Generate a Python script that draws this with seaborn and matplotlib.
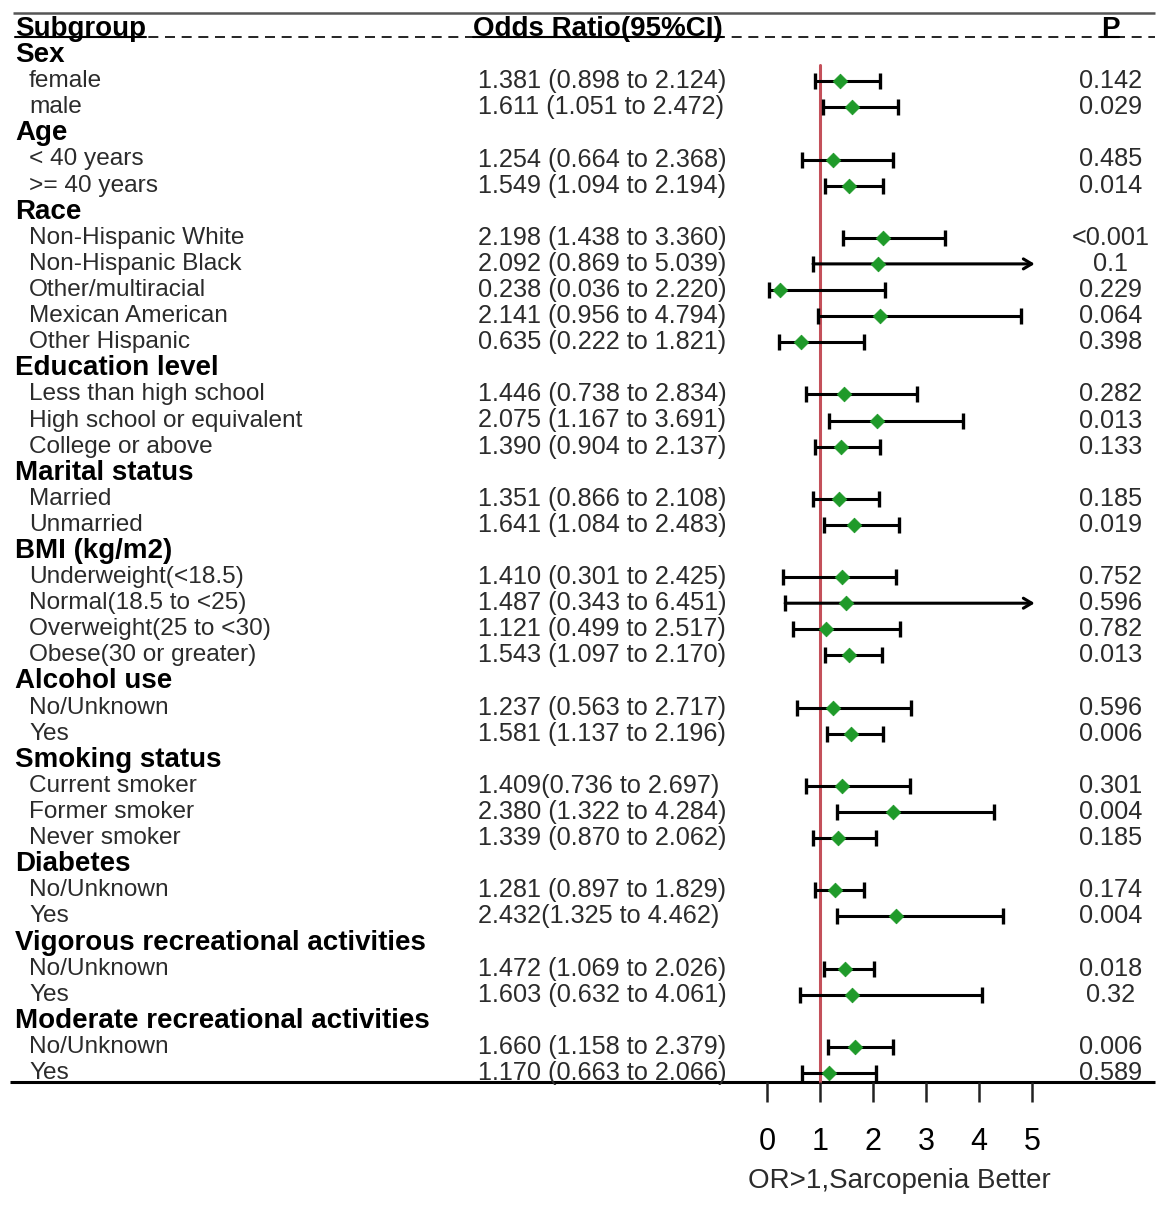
import numpy as np
import pandas as pd
import matplotlib
matplotlib.use("Agg")
import matplotlib.pyplot as plt
import seaborn as sns

# ---------------- data ----------------
group_names = ["Sex", "Age", "Race", "Education level", "Marital status",
               "BMI (kg/m2)", "Alcohol use", "Smoking status", "Diabetes",
               "Vigorous recreational activities", "Moderate recreational activities"]
group_sizes = [2, 2, 5, 3, 2, 4, 2, 3, 2, 2, 2]
subgroups = ["female", "male",
             "< 40 years", ">= 40 years",
             "Non-Hispanic White", "Non-Hispanic Black", "Other/multiracial",
             "Mexican American", "Other Hispanic",
             "Less than high school", "High school or equivalent", "College or above",
             "Married", "Unmarried",
             "Underweight(<18.5)", "Normal(18.5 to <25)", "Overweight(25 to <30)",
             "Obese(30 or greater)",
             "No/Unknown", "Yes",
             "Current smoker", "Former smoker", "Never smoker",
             "No/Unknown", "Yes",
             "No/Unknown", "Yes",
             "No/Unknown", "Yes"]
odds = [1.381, 1.611, 1.254, 1.549, 2.198, 2.092, 0.238, 2.141, 0.635,
        1.446, 2.075, 1.390, 1.351, 1.641, 1.410, 1.487, 1.121, 1.543,
        1.237, 1.581, 1.409, 2.380, 1.339, 1.281, 2.432, 1.472, 1.603,
        1.660, 1.170]
lower = [0.898, 1.051, 0.664, 1.094, 1.438, 0.869, 0.036, 0.956, 0.222,
         0.738, 1.167, 0.904, 0.866, 1.084, 0.301, 0.343, 0.499, 1.097,
         0.563, 1.137, 0.736, 1.322, 0.870, 0.897, 1.325, 1.069, 0.632,
         1.158, 0.663]
upper = [2.124, 2.472, 2.368, 2.194, 3.360, 5.039, 2.220, 4.794, 1.821,
         2.834, 3.691, 2.137, 2.108, 2.483, 2.425, 6.451, 2.517, 2.170,
         2.717, 2.196, 2.697, 4.284, 2.062, 1.829, 4.462, 2.026, 4.061,
         2.379, 2.066]
or_text = ["1.381 (0.898 to 2.124)", "1.611 (1.051 to 2.472)",
           "1.254 (0.664 to 2.368)", "1.549 (1.094 to 2.194)",
           "2.198 (1.438 to 3.360)", "2.092 (0.869 to 5.039)",
           "0.238 (0.036 to 2.220)", "2.141 (0.956 to 4.794)",
           "0.635 (0.222 to 1.821)",
           "1.446 (0.738 to 2.834)", "2.075 (1.167 to 3.691)",
           "1.390 (0.904 to 2.137)",
           "1.351 (0.866 to 2.108)", "1.641 (1.084 to 2.483)",
           "1.410 (0.301 to 2.425)", "1.487 (0.343 to 6.451)",
           "1.121 (0.499 to 2.517)", "1.543 (1.097 to 2.170)",
           "1.237 (0.563 to 2.717)", "1.581 (1.137 to 2.196)",
           "1.409(0.736 to 2.697)", "2.380 (1.322 to 4.284)",
           "1.339 (0.870 to 2.062)",
           "1.281 (0.897 to 1.829)", "2.432(1.325 to 4.462)",
           "1.472 (1.069 to 2.026)", "1.603 (0.632 to 4.061)",
           "1.660 (1.158 to 2.379)", "1.170 (0.663 to 2.066)"]
p_text = ["0.142", "0.029", "0.485", "0.014", "<0.001", "0.1", "0.229", "0.064",
          "0.398", "0.282", "0.013", "0.133", "0.185", "0.019", "0.752", "0.596",
          "0.782", "0.013", "0.596", "0.006", "0.301", "0.004", "0.185", "0.174",
          "0.004", "0.018", "0.32", "0.006", "0.589"]
col_headers = ["Subgroup", "Odds Ratio(95%CI)", "P"]
x_ticks = [0, 1, 2, 3, 4, 5]
x_label = "OR>1,Sarcopenia Better"
x_max = 5

# ---------------- style ----------------
sns.set_theme(style="white")
plt.rcParams["font.family"] = ["Liberation Sans", "DejaVu Sans"]

W, H, DPI = 1170, 1211, 100
fig = plt.figure(figsize=(W / DPI, H / DPI), dpi=DPI)
ax = fig.add_axes([0, 0, 1, 1])
ax.set_axis_off()

# layout: pixel helpers (layout only)
PX_PER_UNIT = 53.0
X0_PX = 767.0
ROW0_PX = 29.0
ROW_PX = 26.1


def xpx(p):
    return (p - X0_PX) / PX_PER_UNIT


def ypx(p):
    return (p - ROW0_PX) / ROW_PX


ax.set_xlim(xpx(0), xpx(W))
ax.set_ylim(ypx(H), ypx(0))

# build row table
rows = []
r = 1
k = 0
for g, n in zip(group_names, group_sizes):
    rows.append(dict(kind="header", label=g, row=r))
    r += 1
    for _ in range(n):
        rows.append(dict(kind="item", label=subgroups[k], row=r, idx=k))
        r += 1
        k += 1

item_rows = [d["row"] for d in rows if d["kind"] == "item"]
df = pd.DataFrame({"subgroup": subgroups, "odds": odds, "lower": lower,
                   "upper": upper, "row": item_rows})

TXT = "#2b2b2b"
FS_BODY = 17.6
FS_OR = 18.2
FS_HEAD = 20

# column header
hdr_texts = []
hdr_texts.append(ax.text(xpx(15), 0, col_headers[0], fontsize=FS_HEAD, fontweight="bold",
                         ha="left", va="center", color="black"))
hdr_texts.append(ax.text(xpx(473), 0, col_headers[1], fontsize=FS_HEAD, fontweight="bold",
                         ha="left", va="center", color="black"))
hdr_texts.append(ax.text(xpx(1110), 0, col_headers[2], fontsize=FS_HEAD, fontweight="bold",
                         ha="center", va="center", color="black"))

# text columns
for d in rows:
    if d["kind"] == "header":
        ax.text(xpx(15), d["row"], d["label"], fontsize=FS_HEAD, fontweight="bold",
                ha="left", va="center", color="black")
    else:
        i = d["idx"]
        ax.text(xpx(29), d["row"], d["label"], fontsize=FS_BODY,
                ha="left", va="center", color=TXT)
        ax.text(xpx(478), d["row"], or_text[i], fontsize=FS_OR,
                ha="left", va="center", color=TXT)
        ax.text(xpx(1111), d["row"], p_text[i], fontsize=FS_OR,
                ha="center", va="center", color=TXT)

# lines: top rule, dashed header rule, bottom axis rule
ax.plot([xpx(13), xpx(1155)], [ypx(13), ypx(13)], color="#555555", lw=1.8,
        solid_capstyle="butt")
ax.plot([xpx(15), xpx(1155)], [ypx(37), ypx(37)], color="black", lw=1.2,
        linestyle=(0, (6, 4)))
ax.plot([xpx(10), xpx(1155)], [ypx(1082), ypx(1082)], color="black", lw=2.2,
        solid_capstyle="butt")

# reference line at OR = 1
ax.plot([1, 1], [ypx(65), ypx(1082)], color="#c4505a", lw=2.2, zorder=2)

# CI lines
LW = 2.2
for _, rr in df.iterrows():
    hi = min(rr["upper"], x_max)
    if rr["upper"] > x_max:
        ax.annotate("", xy=(x_max + 0.05, rr["row"]), xytext=(rr["lower"], rr["row"]),
                    arrowprops=dict(arrowstyle="->,head_length=0.5,head_width=0.3",
                                    lw=LW, color="black", shrinkA=0, shrinkB=0),
                    zorder=3)
        caps = [rr["lower"]]
    else:
        ax.plot([rr["lower"], hi], [rr["row"], rr["row"]], color="black", lw=LW,
                zorder=3, solid_capstyle="butt")
        caps = [rr["lower"], hi]
    ax.plot(caps, [rr["row"]] * len(caps), linestyle="none", marker="|",
            markersize=11, markeredgewidth=2.4, color="black", zorder=3)

sns.scatterplot(data=df, x="odds", y="row", ax=ax, color="#1f9a2a", marker="D",
                s=55, edgecolor="#1f9a2a", linewidth=0.6, zorder=4, legend=False)

# x axis ticks and labels
ax.vlines(x_ticks, ypx(1082), ypx(1102), color="#222222", lw=1.8)
for t in x_ticks:
    ax.text(t, ypx(1142), str(t), fontsize=22, ha="center", va="center", color="black")
ax.text(2.5, ypx(1181), x_label, fontsize=FS_HEAD, ha="center", va="center", color=TXT)

ax.set_xlim(xpx(0), xpx(W))
ax.set_ylim(ypx(H), ypx(0))

# solid underline beneath column header texts
fig.canvas.draw()
rend = fig.canvas.get_renderer()
inv = ax.transData.inverted()
for t in hdr_texts:
    bb = t.get_window_extent(renderer=rend)
    x_a = inv.transform((bb.x0, 0))[0]
    x_b = inv.transform((bb.x1, 0))[0]
    ax.plot([x_a, x_b], [ypx(37), ypx(37)], color="black", lw=1.5)

ax.set_xlim(xpx(0), xpx(W))
ax.set_ylim(ypx(H), ypx(0))
fig.savefig("out.png", dpi=DPI, facecolor="white")
